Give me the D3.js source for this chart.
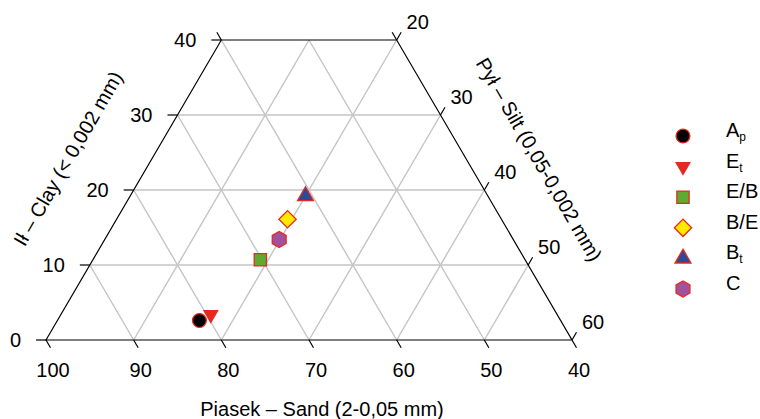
<!DOCTYPE html>
<html>
<head>
<meta charset="utf-8">
<script src="https://cdn.jsdelivr.net/npm/d3@7"></script>
<style>
  body { margin: 0; background: #fff; }
  text { font-family: "Liberation Sans", Arial, sans-serif; fill: #000; }
</style>
</head>
<body>
<div id="chart"></div>
<script>
// horizons and texture (%)
var horizons = ["A", "E", "E/B", "B/E", "B", "C"];
var subs = ["p", "t", "", "", "t", ""];
var sand = [81.2, 79.5, 70.2, 64.4, 60.8, 66.7];
var silt = [16.2, 17.1, 19.1, 19.5, 20.0, 19.9];
var clay = [2.6, 3.4, 10.7, 16.1, 19.2, 13.4];

var shapes = ["circle", "triDown", "square", "diamond", "triUp", "hexagon"];
var fills = ["#000000", "#e5291f", "#5faa30", "#ffea00", "#2c4a9a", "#a2519f"];

// ticks for each side
var sandTicks = [100, 90, 80, 70, 60, 50, 40];
var clayTicks = [0, 10, 20, 30, 40];
var siltTicks = [20, 30, 40, 50, 60];

var width = 760, height = 419;
var fs = 20;

var svg = d3.select("#chart").append("svg")
  .attr("width", width)
  .attr("height", height);

// x uses sand + clay/2, y uses clay
var x = d3.scaleLinear().domain([100, 40]).range([46, 572]);
var y = d3.scaleLinear().domain([0, 40]).range([340, 40]);

function pt(s, c) {
  return [x(s + c / 2), y(c)];
}

var grid = svg.append("g")
  .attr("stroke", "#c4c4c4")
  .attr("stroke-width", 1.4)
  .attr("fill", "none");

function seg(a, b) {
  grid.append("line")
    .attr("x1", a[0]).attr("y1", a[1])
    .attr("x2", b[0]).attr("y2", b[1]);
}

// clay lines (horizontal)
[10, 20, 30].forEach(function (c) {
  seg(pt(100 - c, c), pt(40, c));
});
// sand lines
[90, 80, 70, 60, 50].forEach(function (s) {
  var cmax = Math.min(40, 100 - s);
  seg(pt(s, 0), pt(s, cmax));
});
// silt lines
[10, 20, 30, 40, 50].forEach(function (si) {
  var cmax = Math.min(40, 60 - si);
  seg(pt(100 - si, 0), pt(100 - si - cmax, cmax));
});

// outline
var corners = [pt(100, 0), pt(60, 40), pt(40, 40), pt(40, 0)];
svg.append("path")
  .attr("d", d3.line()(corners) + "Z")
  .attr("fill", "none")
  .attr("stroke", "#000")
  .attr("stroke-width", 1.2);

var axes = svg.append("g").attr("stroke", "#000").attr("stroke-width", 1.2);
var tl = 9;
var c60 = Math.cos(Math.PI / 3), s60 = Math.sin(Math.PI / 3);

// sand ticks (bottom, down-right)
sandTicks.forEach(function (s) {
  var p = pt(s, 0);
  axes.append("line")
    .attr("x1", p[0]).attr("y1", p[1])
    .attr("x2", p[0] + tl * c60).attr("y2", p[1] + tl * s60);
  svg.append("text")
    .attr("x", p[0] + 7).attr("y", 377)
    .attr("text-anchor", "middle")
    .attr("font-size", fs)
    .text(s);
});
// corner extensions at the top
[pt(60, 40), pt(40, 40)].forEach(function (p) {
  axes.append("line")
    .attr("x1", p[0]).attr("y1", p[1])
    .attr("x2", p[0] - tl * c60).attr("y2", p[1] - tl * s60);
});

// clay ticks (left, horizontal)
clayTicks.forEach(function (c) {
  var p = pt(100 - c, c);
  axes.append("line")
    .attr("x1", p[0]).attr("y1", p[1])
    .attr("x2", p[0] - 10).attr("y2", p[1]);
  svg.append("text")
    .attr("x", p[0] - 25).attr("y", p[1] + 7)
    .attr("text-anchor", "end")
    .attr("font-size", fs)
    .text(c);
});

// silt ticks (right, up-right)
siltTicks.forEach(function (si) {
  var c = 60 - si;
  var p = pt(40, c);
  axes.append("line")
    .attr("x1", p[0]).attr("y1", p[1])
    .attr("x2", p[0] + tl * c60).attr("y2", p[1] - tl * s60);
  svg.append("text")
    .attr("x", p[0] + 21).attr("y", p[1] - 11)
    .attr("text-anchor", "middle")
    .attr("font-size", fs)
    .text(si);
});

// axis titles
svg.append("text")
  .attr("x", 322).attr("y", 416)
  .attr("text-anchor", "middle")
  .attr("font-size", fs)
  .text("Piasek – Sand (2-0,05 mm)");

svg.append("text")
  .attr("transform", "translate(74,162) rotate(-60)")
  .attr("text-anchor", "middle")
  .attr("font-size", fs)
  .text("Ił – Clay (< 0,002 mm)");

svg.append("text")
  .attr("transform", "translate(533,163) rotate(60)")
  .attr("text-anchor", "middle")
  .attr("font-size", fs)
  .text("Pył – Silt (0,05-0,002 mm)");

// marker shapes
function hexPath(r) {
  var pts = d3.range(6).map(function (i) {
    var a = Math.PI / 6 + i * Math.PI / 3;
    return [r * Math.cos(a), r * Math.sin(a)];
  });
  return d3.line()(pts) + "Z";
}

function markerPath(shape) {
  if (shape === "circle") return d3.symbol(d3.symbolCircle, 150)();
  if (shape === "triDown" || shape === "triUp") return d3.symbol(d3.symbolTriangle, 110)();
  if (shape === "square") return d3.symbol(d3.symbolSquare, 150)();
  if (shape === "diamond") return d3.symbol(d3.symbolSquare, 150)();
  return hexPath(8);
}

function markerRot(shape) {
  if (shape === "triDown") return 180;
  if (shape === "diamond") return 45;
  return 0;
}

function strokeOf(i) {
  return shapes[i] === "triDown" ? "none" : "#e5291f";
}

var idx = d3.range(horizons.length);

svg.append("g").selectAll("path")
  .data(idx)
  .join("path")
  .attr("d", function (i) { return markerPath(shapes[i]); })
  .attr("transform", function (i) {
    var p = pt(sand[i], clay[i]);
    return "translate(" + p[0] + "," + p[1] + ") rotate(" + markerRot(shapes[i]) + ")";
  })
  .attr("fill", function (i) { return fills[i]; })
  .attr("stroke", strokeOf)
  .attr("stroke-width", 1.3);

// legend
var legend = svg.append("g");
var ly = d3.scaleLinear().domain([0, 5]).range([136, 289]);

legend.selectAll("path")
  .data(idx)
  .join("path")
  .attr("d", function (i) { return markerPath(shapes[i]); })
  .attr("transform", function (i) {
    return "translate(683," + ly(i) + ") rotate(" + markerRot(shapes[i]) + ")";
  })
  .attr("fill", function (i) { return fills[i]; })
  .attr("stroke", strokeOf)
  .attr("stroke-width", 1.3);

var lt = legend.selectAll("text")
  .data(idx)
  .join("text")
  .attr("x", 726)
  .attr("y", function (i) { return ly(i) + 1; })
  .attr("font-size", fs);
lt.append("tspan").text(function (i) { return horizons[i]; });
lt.append("tspan")
  .attr("font-size", 12)
  .attr("dy", 4)
  .text(function (i) { return subs[i]; });
</script>
</body>
</html>
